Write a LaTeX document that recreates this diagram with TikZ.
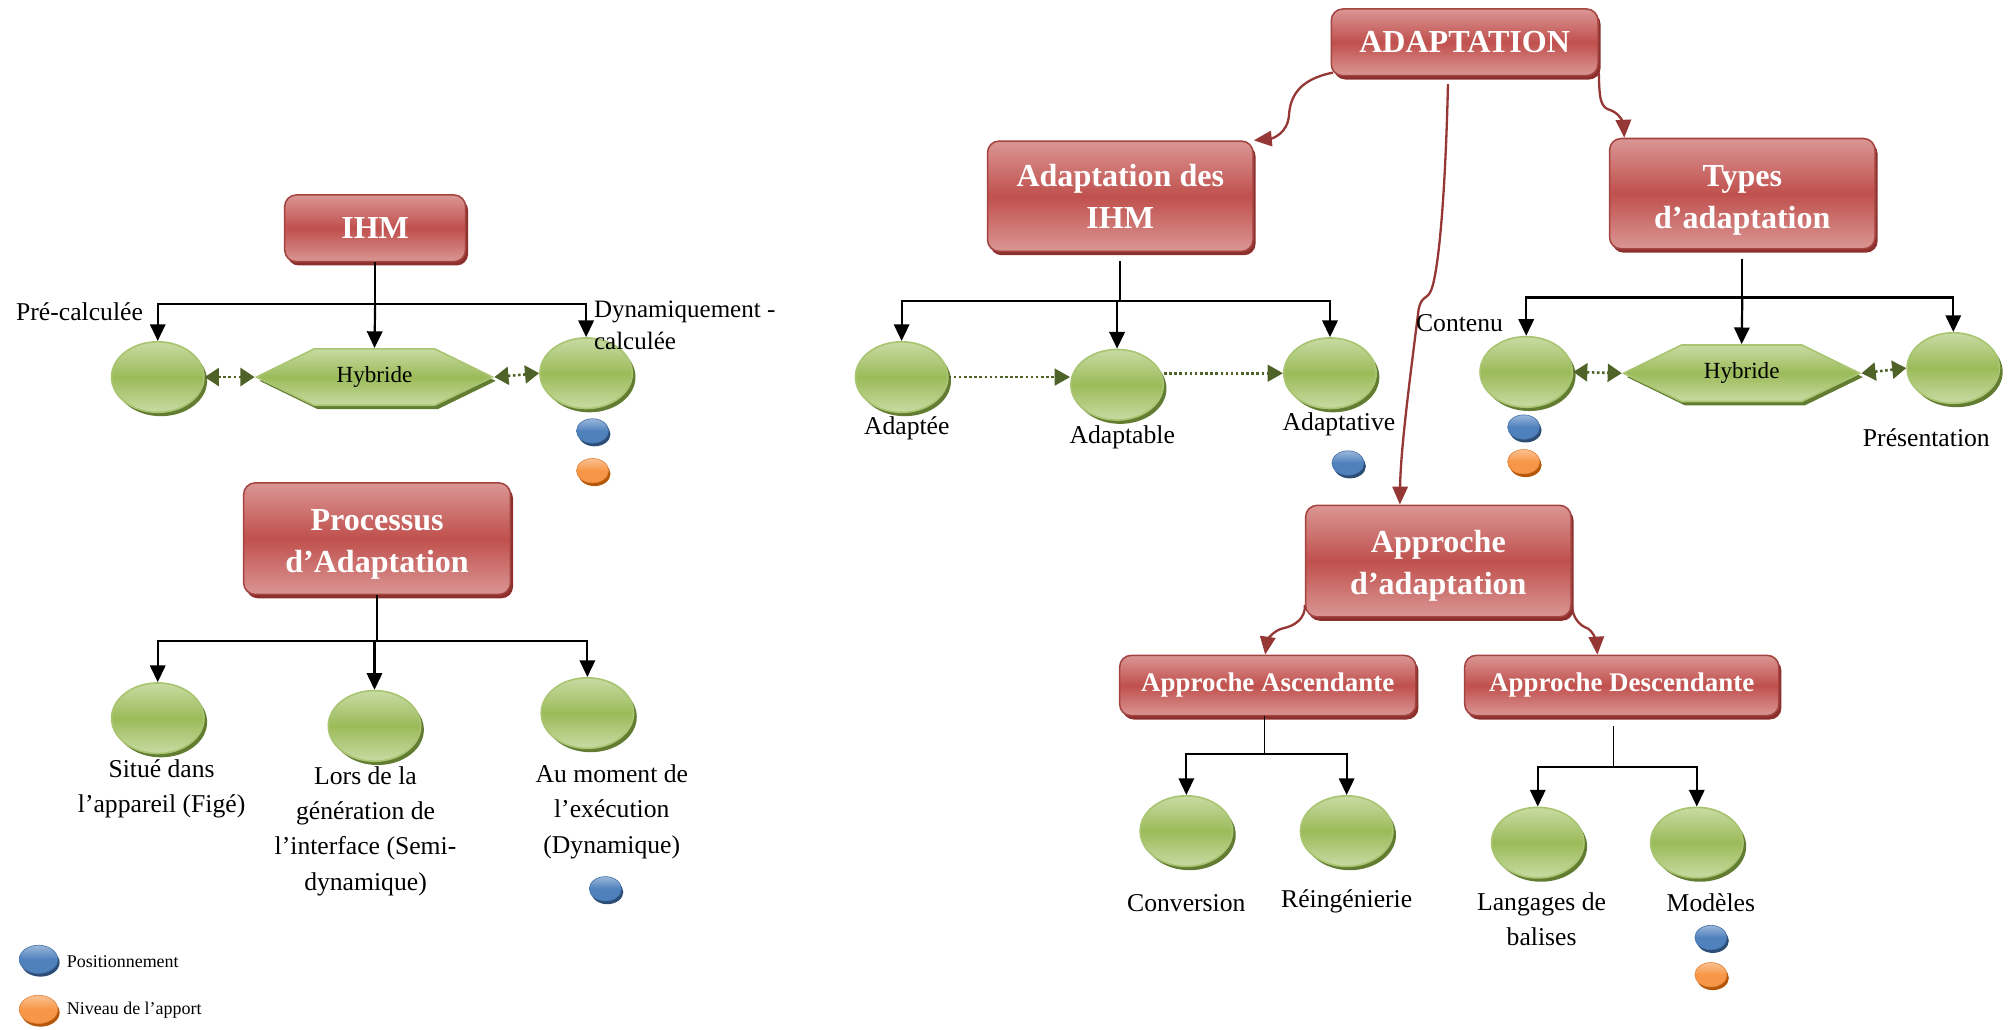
\documentclass[tikz,border=0pt]{standalone}
\usepackage{fontspec}
\setmainfont{Liberation Serif}
\usetikzlibrary{arrows.meta,shapes.geometric,shapes.symbols,shadows}

\definecolor{redmid}{HTML}{C0504D}
\definecolor{redlight}{HTML}{DA9694}
\definecolor{redshadow}{HTML}{8C2F2D}
\definecolor{redline}{HTML}{953735}
\definecolor{grnmid}{HTML}{9BBB59}
\definecolor{grnlight}{HTML}{C8DBA3}
\definecolor{grnshadow}{HTML}{627D32}
\definecolor{grnarrow}{HTML}{4F6228}
\definecolor{bluemid}{HTML}{4F81BD}
\definecolor{bluelight}{HTML}{9AB7DA}
\definecolor{blueshadow}{HTML}{2C4D75}
\definecolor{orgmid}{HTML}{F79646}
\definecolor{orglight}{HTML}{FBC193}
\definecolor{orgshadow}{HTML}{B65708}

% extra height on the first line of a title, pushing the text block down
\newcommand\firstline[1]{\rule{0pt}{#1}}

\tikzset{
  redbox/.style={rectangle, rounded corners=9pt, draw=redmid!85!black, line width=1.2pt,
    top color=redlight, bottom color=redlight, middle color=redmid,
    text=white, align=center, inner sep=2pt,
    drop shadow={shadow xshift=2pt, shadow yshift=-3pt, fill=redshadow, opacity=1}},
  bigtitle/.style={font=\fontsize{25}{32.5}\selectfont\bfseries},
  smalltitle/.style={font=\fontsize{21}{25}\selectfont\bfseries},
  ball/.style={ellipse, minimum width=72pt, minimum height=55pt, inner sep=0pt,
    draw=grnmid!85!white, line width=1.3pt,
    top color=grnlight, bottom color=grnlight, middle color=grnmid,
    drop shadow={shadow xshift=2.5pt, shadow yshift=-3pt, fill=grnshadow, opacity=1}},
  hexa/.style={signal, signal to=west and east, signal pointer angle=52,
    minimum width=184pt, minimum height=44pt, inner sep=0pt,
    draw=grnmid!85!white, line width=1.3pt,
    top color=grnlight, bottom color=grnlight, middle color=grnmid,
    font=\fontsize{18}{20}\selectfont,
    drop shadow={shadow xshift=2.5pt, shadow yshift=-3pt, fill=grnshadow, opacity=1}},
  bluedot/.style={ellipse, minimum width=25pt, minimum height=19pt, inner sep=0pt,
    top color=bluelight, bottom color=bluemid, middle color=bluemid, draw=bluemid!90!black, line width=0.5pt,
    drop shadow={shadow xshift=1.5pt, shadow yshift=-2.5pt, fill=blueshadow, opacity=1}},
  orangedot/.style={ellipse, minimum width=25pt, minimum height=19pt, inner sep=0pt,
    top color=orglight, bottom color=orgmid, middle color=orgmid, draw=orgmid!90!black, line width=0.5pt,
    drop shadow={shadow xshift=1.5pt, shadow yshift=-2.5pt, fill=orgshadow, opacity=1}},
  lbl/.style={font=\fontsize{20}{27.5}\selectfont, align=center, inner sep=0pt},
  legendtxt/.style={font=\fontsize{14}{16}\selectfont, inner sep=0pt, anchor=west},
  conn/.style={line width=1.7pt, -{Triangle[length=13pt,width=12pt]}},
  stem/.style={line width=1.7pt},
  thinstem/.style={line width=1.1pt},
  redarrow/.style={redline, line width=1.8pt, -{Triangle[length=14pt,width=12pt]}},
  dotone/.style={grnarrow, line width=2pt, dotted, -{Triangle[length=12pt,width=13pt]}},
  dottwo/.style={grnarrow, line width=2pt, dotted, {Triangle[length=11pt,width=14pt]}-{Triangle[length=11pt,width=14pt]}},
}

\begin{document}
\begin{tikzpicture}[x=1pt,y=-1pt]
\useasboundingbox (0,0) rectangle (1568,803);

% ---------- IHM ----------
\node[redbox, bigtitle, minimum width=141pt, minimum height=52pt] (ihm) at (292.5,178) {IHM};
\node[ball] (pre) at (123,294) {};
\node[hexa] (hyb1) at (292,294) {Hybride};
\node[ball] (dyn) at (457,291) {};
\coordinate (jihm) at (292.5,237);
\draw[stem] (ihm.south) -- (jihm);
\draw[conn] (jihm) -| (pre.north);
\draw[conn] (jihm) -- (hyb1.north);
\draw[conn] (jihm) -| (dyn.north);
\draw[dottwo] (pre.east) -- (hyb1.west);
\draw[dottwo] (hyb1.east) -- (dyn.west);
\node[lbl] (lpre) at (62,243) {Pré-calculée};
\node[lbl, align=left, anchor=west, font=\fontsize{19.5}{25}\selectfont] (ldyn) at (463,254) {Dynamiquement -\\calculée};
\node[bluedot] (bdyn) at (462,336) {};
\node[orangedot] (odyn) at (462,367) {};

% ---------- Processus d'Adaptation ----------
\node[redbox, bigtitle, minimum width=208pt, minimum height=87pt] (proc) at (294,420) {\firstline{25pt}Processus\\d’Adaptation};
\node[ball] (situe) at (123,560) {};
\node[ball] (lors) at (292,566) {};
\node[ball] (aumom) at (458,556) {};
\coordinate (jproc) at (294,500);
\draw[stem] (proc.south) -- (jproc);
\draw[conn] (jproc) -| (situe.north);
\draw[conn] (jproc) -| (lors.north);
\draw[conn] (jproc) -| (aumom.north);
\node[lbl] (lsitue) at (126,615) {Situé dans\\l’appareil (Figé)};
\node[lbl] (llors) at (285,648) {Lors de la\\génération de\\l’interface (Semi-\\dynamique)};
\node[lbl] (laumom) at (477,633) {Au moment de\\l’exécution\\(Dynamique)};
\node[bluedot] (baumom) at (472,693) {};

% ---------- Legend ----------
\node[bluedot, minimum width=30pt, minimum height=22pt] (legb) at (30,748) {};
\node[legendtxt] (legbt) at (52,750) {Positionnement};
\node[orangedot, minimum width=30pt, minimum height=22pt] (lego) at (30,787) {};
\node[legendtxt] (legot) at (52,788) {Niveau de l’apport};

% ---------- ADAPTATION ----------
\node[redbox, bigtitle, minimum width=208pt, minimum height=52pt] (adapt) at (1142,33) {ADAPTATION};
\node[redbox, bigtitle, minimum width=207pt, minimum height=86pt] (ihmadapt) at (873.5,153) {Adaptation des\\IHM};
\node[redbox, bigtitle, minimum width=207pt, minimum height=86pt] (types) at (1358.5,151) {\firstline{27pt}Types\\d’adaptation};
\node[redbox, bigtitle, minimum width=207pt, minimum height=87pt] (approche) at (1121.5,437.5) {\firstline{25pt}Approche\\d’adaptation};
\node[redbox, smalltitle, minimum width=231pt, minimum height=47pt] (asc) at (988.5,534.5) {Approche Ascendante};
\node[redbox, smalltitle, minimum width=245pt, minimum height=47pt] (desc) at (1264.5,534.5) {Approche Descendante};

\draw[redarrow] ([xshift=2pt,yshift=3pt]adapt.south west) .. controls (1012,62) and (1006,76) .. (1005,90)
  .. controls (1004,104) and (992,108) .. (ihmadapt.north east);
\draw[redarrow] ([yshift=3pt]adapt.south east) .. controls (1247,78) and (1248,84) .. (1256,86)
  .. controls (1264,89) and (1266,98) .. ([xshift=12pt]types.north west);
\draw[redarrow] ([xshift=-13pt,yshift=-6pt]adapt.south) .. controls (1127,150) and (1122,210) .. (1116,226)
  .. controls (1113,234) and (1108,230) .. (1106,242) .. controls (1100,290) and (1092,350) .. ([xshift=-30pt]approche.north);
\draw[redarrow] ([yshift=10pt]approche.south west) .. controls (1018,482) and (1010,488) .. (1000,490)
  .. controls (992,492) and (988,500) .. ([xshift=-2pt]asc.north);
\draw[redarrow] ([yshift=10pt]approche.south east) .. controls (1226,482) and (1232,488) .. (1238,490)
  .. controls (1243,493) and (1245,502) .. ([xshift=-19pt]desc.north);

% ---------- Adaptation des IHM ----------
\node[ball] (adaptee) at (703,294) {};
\node[ball] (adaptable) at (871,300) {};
\node[ball] (adaptative) at (1037,291) {};
\coordinate (jia) at (873.5,235);
\draw[stem] ([yshift=-7pt]ihmadapt.south) -- (jia);
\draw[conn] (jia) -| (adaptee.north);
\draw[conn] (jia) -| (adaptable.north);
\draw[conn] (jia) -| (adaptative.north);
\draw[dotone] (adaptee.east) -- (adaptee.east -| adaptable.west);
\draw[dotone] (adaptative.west -| adaptable.east) -- (adaptative.west);
\node[lbl] (ladaptee) at (707,334) {Adaptée};
\node[lbl] (ladaptable) at (875,341) {Adaptable};
\node[lbl] (ladaptative) at (1044,331) {Adaptative};
\node[bluedot] (badaptative) at (1051,361) {};

% ---------- Types d'adaptation ----------
\node[ball] (contenu) at (1190,290) {};
\node[hexa] (hyb2) at (1358,291) {Hybride};
\node[ball] (pres) at (1523,287) {};
\coordinate (jty) at (1358.5,232);
\draw[stem] ([yshift=-7pt]types.south) -- (jty);
\draw[conn] (jty) -| (contenu.north);
\draw[conn] (jty) -- (hyb2.north);
\draw[conn] (jty) -| (pres.north);
\draw[dottwo] (contenu.east) -- (hyb2.west);
\draw[dottwo] (hyb2.east) -- (pres.west);
\node[lbl] (lcontenu) at (1138,252) {Contenu};
\node[lbl] (lpres) at (1502,341) {Présentation};
\node[bluedot] (bcontenu) at (1188,333) {};
\node[orangedot] (ocontenu) at (1188,360) {};

% ---------- Approche Ascendante ----------
\node[ball] (conv) at (925,648) {};
\node[ball] (reing) at (1050,648) {};
\coordinate (jasc) at (986,588);
\draw[thinstem] ([xshift=-2.5pt]asc.south) -- (jasc);
\draw[conn] (jasc) -| (conv.north);
\draw[conn] (jasc) -| (reing.north);
\node[lbl] (lconv) at (925,704) {Conversion};
\node[lbl] (lreing) at (1050,703) {Réingénierie};

% ---------- Approche Descendante ----------
\node[ball] (lang) at (1199,657) {};
\node[ball] (modeles) at (1323,657) {};
\coordinate (jdesc) at (1258,598);
\draw[thinstem] (1258,566) -- (jdesc);
\draw[conn] (jdesc) -| (lang.north);
\draw[conn] (jdesc) -| (modeles.north);
\node[lbl] (llang) at (1202,717) {Langages de\\balises};
\node[lbl] (lmodeles) at (1334,704) {Modèles};
\node[bluedot] (bmodeles) at (1334,731) {};
\node[orangedot] (omodeles) at (1334,760) {};
\end{tikzpicture}
\end{document}
